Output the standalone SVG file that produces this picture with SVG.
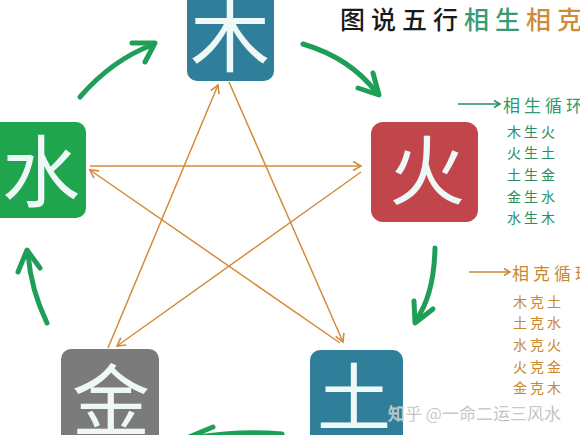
<svg xmlns="http://www.w3.org/2000/svg" width="580" height="435" viewBox="0 0 580 435">
<defs>
<style>
.big{font-family:"Noto Sans CJK SC","Noto Sans CJK JP",sans-serif;font-weight:400;fill:#eef8f6;text-anchor:middle;dominant-baseline:central}
.ke{stroke:#d68a3c;stroke-width:1.5;fill:none}
.sheng{stroke:#1f9e58;stroke-width:5;fill:none;stroke-linecap:round;stroke-linejoin:round}
.t{font-family:"Noto Sans CJK SC","Noto Sans CJK JP",sans-serif;dominant-baseline:central}
.gl{fill:#2b8e62;font-size:14px;letter-spacing:3px}
.ol{fill:#c9882f;font-size:14px;letter-spacing:3px}
</style>
<marker id="oa" markerUnits="userSpaceOnUse" markerWidth="12" markerHeight="12" viewBox="-10 -6 12 12" refX="0" refY="0" orient="auto">
<path d="M-8,-4.5 L0,0 L-8,4.5" fill="none" stroke="#d68a3c" stroke-width="1.6"/>
</marker>
<marker id="ga" markerUnits="userSpaceOnUse" markerWidth="12" markerHeight="12" viewBox="-10 -6 12 12" refX="0" refY="0" orient="auto">
<path d="M-6,-3.5 L0,0 L-6,3.5" fill="none" stroke="#2b8e62" stroke-width="1.5"/>
</marker>
<marker id="oa2" markerUnits="userSpaceOnUse" markerWidth="12" markerHeight="12" viewBox="-10 -6 12 12" refX="0" refY="0" orient="auto">
<path d="M-6,-3.5 L0,0 L-6,3.5" fill="none" stroke="#c9882f" stroke-width="1.5"/>
</marker>
</defs>
<rect width="580" height="435" fill="#ffffff"/>

<g id="title">
<text class="t" x="340" y="18" font-size="25" font-weight="500" letter-spacing="6"><tspan fill="#1a1a1a">图说五行</tspan><tspan fill="#3a9a72">相生</tspan><tspan fill="#d08a3c">相克</tspan></text>
</g>

<g id="connectors">
<g id="ke-lines">
<line class="ke" x1="229" y1="82" x2="343" y2="342" marker-end="url(#oa)"/>
<line class="ke" x1="340" y1="343" x2="90" y2="170" marker-end="url(#oa)"/>
<line class="ke" x1="90" y1="166" x2="361" y2="166" marker-end="url(#oa)"/>
<line class="ke" x1="361" y1="172" x2="117" y2="346" marker-end="url(#oa)"/>
<line class="ke" x1="108" y1="348" x2="218" y2="85" marker-end="url(#oa)"/>
</g>
<g id="sheng-arrows">
<path class="sheng" d="M80,97 Q112,60 152,45"/>
<polyline class="sheng" points="132,43 155,43 145,62"/>
<path class="sheng" d="M303,44 Q350,58 376,92"/>
<polyline class="sheng" points="358,88 379,95 373,73"/>
<path class="sheng" d="M435,248 Q434,295 416,320"/>
<polyline class="sheng" points="414,301 415,323 433,309"/>
<path class="sheng" d="M47,323 Q31,290 28,254"/>
<polyline class="sheng" points="18,272 27,250 40,268"/>
<path class="sheng" d="M282,434 Q240,430 192,438"/>
<polyline class="sheng" points="213,427 189,437 205,450"/>
</g>
</g>

<g id="mu">
<rect x="187" y="-12" width="87" height="93" rx="10" fill="#2f7f9b"/>
<text class="big" x="230" y="30" font-size="80">木</text>
</g>
<g id="shui">
<rect x="-12" y="122" width="98" height="96" rx="10" fill="#1ea54d"/>
<text class="big" x="41" y="167" font-size="78">水</text>
</g>
<g id="huo">
<rect x="371" y="122" width="107" height="100" rx="12" fill="#c1464b"/>
<text class="big" x="427" y="166" font-size="76">火</text>
</g>
<g id="jin">
<rect x="61" y="349" width="98" height="100" rx="10" fill="#7b7b7b"/>
<text class="big" x="111" y="396" font-size="78">金</text>
</g>
<g id="tu">
<rect x="310" y="350" width="93" height="100" rx="10" fill="#2f7f9b"/>
<text class="big" x="354" y="392" font-size="74">土</text>
</g>

<g id="sheng-legend">
<line x1="458" y1="104" x2="500" y2="104" stroke="#2b8e62" stroke-width="1.5" marker-end="url(#ga)"/>
<text class="t" x="503" y="104" font-size="17" fill="#2f9a6d" letter-spacing="4">相生循环</text>
<text class="t gl" x="507" y="131">木生火</text>
<text class="t gl" x="507" y="152">火生土</text>
<text class="t gl" x="507" y="174">土生金</text>
<text class="t gl" x="507" y="196">金生水</text>
<text class="t gl" x="507" y="217">水生木</text>
</g>
<g id="ke-legend">
<line x1="469" y1="272" x2="510" y2="272" stroke="#c9882f" stroke-width="1.5" marker-end="url(#oa2)"/>
<text class="t" x="512" y="272" font-size="17" fill="#c9882f" letter-spacing="4">相克循环</text>
<text class="t ol" x="513" y="301">木克土</text>
<text class="t ol" x="513" y="322">土克水</text>
<text class="t ol" x="513" y="344">水克火</text>
<text class="t ol" x="513" y="366">火克金</text>
<text class="t ol" x="513" y="387">金克木</text>
</g>

<g id="watermark">
<text class="t" x="388" y="412" font-size="17" fill="#b0b0b0" stroke="#ffffff" stroke-width="0.3">知乎 @一命二运三风水</text>
</g>
</svg>
